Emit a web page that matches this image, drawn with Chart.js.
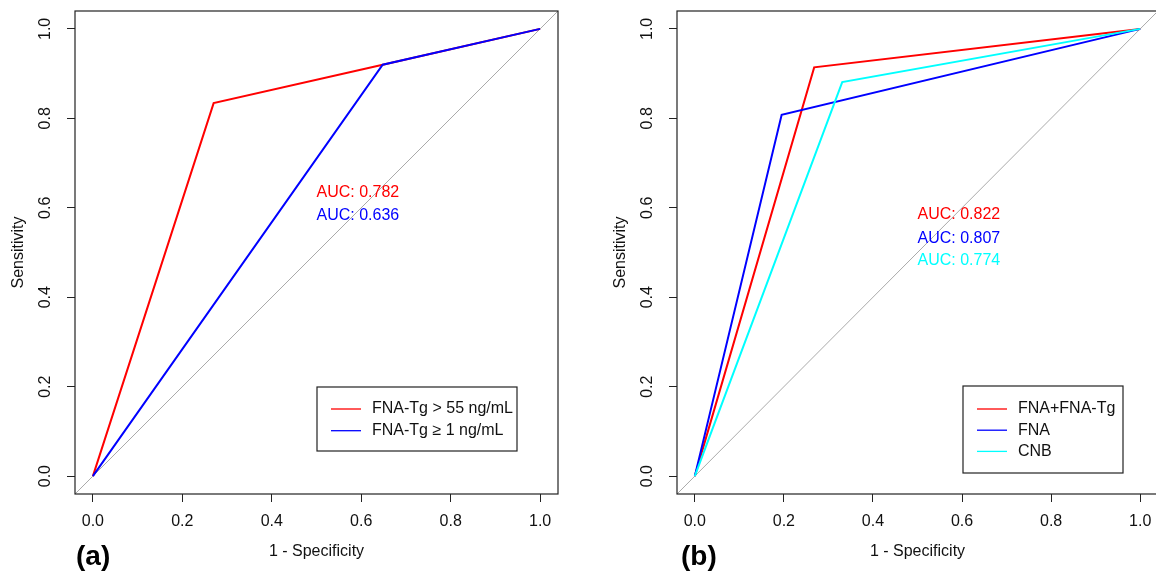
<!DOCTYPE html>
<html lang="en">

<head>
    <meta charset="UTF-8">
    <title>ROC curves</title>
    <script src="https://cdn.jsdelivr.net/npm/chart.js"></script>
    <style>
        body { margin: 0; background: #fff; overflow: hidden; width: 1156px; height: 574px; position: relative; }
        canvas { position: absolute; top: 0; }
        #rocA { left: 0; }
        #rocB { left: 602px; }
    </style>
</head>

<body>
    <canvas id="rocA" width="578" height="574"></canvas>
    <canvas id="rocB" width="578" height="574"></canvas>

    <script>
        // axis ticks (both panels)
        const xTicks = [0, 0.2, 0.4, 0.6, 0.8, 1.0];
        const yTicks = [0, 0.2, 0.4, 0.6, 0.8, 1.0];
        const axisRange = [-0.04, 1.04];

        // panel (a)
        const aLabels = ['FNA-Tg > 55 ng/mL', 'FNA-Tg \u2265 1 ng/mL'];
        const aRedX = [0, 0.27, 0.648, 1];
        const aRedY = [0, 0.834, 0.92, 1];
        const aBlueX = [0, 0.648, 1];
        const aBlueY = [0, 0.92, 1];
        const aAuc = [0.782, 0.636];

        // panel (b)
        const bLabels = ['FNA+FNA-Tg', 'FNA', 'CNB'];
        const bRedX = [0, 0.268, 1];
        const bRedY = [0, 0.914, 1];
        const bBlueX = [0, 0.195, 1];
        const bBlueY = [0, 0.808, 1];
        const bCyanX = [0, 0.331, 1];
        const bCyanY = [0, 0.881, 1];
        const bAuc = [0.822, 0.807, 0.774];

        const FONT = '"Liberation Sans", Arial, sans-serif';

        function pts(xs, ys) {
            return xs.map((x, i) => ({ x: x, y: ys[i] }));
        }

        function curve(label, xs, ys, color, order) {
            return {
                label: label, data: pts(xs, ys), borderColor: color, backgroundColor: color,
                borderWidth: 2, pointRadius: 0, tension: 0, order: order
            };
        }

        // grey identity line, spans the whole box
        function diagonal() {
            return {
                label: '', data: pts(axisRange, axisRange), borderColor: '#aaaaaa',
                borderWidth: 1, pointRadius: 0, tension: 0, order: 10
            };
        }

        // R-style extras: full box, rotated y labels, AUC text, legend, panel tag
        const rStyle = {
            id: 'rStyle',
            afterDraw(chart, args, o) {
                const { ctx, chartArea: a, scales } = chart;
                ctx.save();
                ctx.strokeStyle = '#222';
                ctx.lineWidth = 1.2;
                ctx.strokeRect(a.left, a.top, a.right - a.left, a.bottom - a.top);

                ctx.fillStyle = '#111';
                ctx.font = '16px ' + FONT;
                ctx.textAlign = 'center';
                ctx.textBaseline = 'middle';
                scales.y.ticks.forEach(t => {
                    ctx.save();
                    ctx.translate(46, scales.y.getPixelForValue(t.value));
                    ctx.rotate(-Math.PI / 2);
                    ctx.fillText(t.value.toFixed(1), 0, 0);
                    ctx.restore();
                });

                // AUC text
                const sets = chart.data.datasets.filter(d => d.label);
                ctx.textAlign = 'left';
                o.auc.forEach((v, i) => {
                    ctx.fillStyle = sets[i].borderColor;
                    ctx.fillText('AUC: ' + v.toFixed(3), scales.x.getPixelForValue(0.5),
                        scales.y.getPixelForValue(o.aucY[i]));
                });

                // legend box
                const L = o.legend;
                ctx.strokeStyle = '#222';
                ctx.lineWidth = 1.2;
                ctx.strokeRect(L.left, L.top, L.width, L.height);
                sets.forEach((d, i) => {
                    const y = L.top + L.first + i * L.step;
                    ctx.strokeStyle = d.borderColor;
                    ctx.lineWidth = 1.3;
                    ctx.beginPath();
                    ctx.moveTo(L.left + 14, y);
                    ctx.lineTo(L.left + 44, y);
                    ctx.stroke();
                    ctx.fillStyle = '#111';
                    ctx.fillText(d.label, L.left + 55, y);
                });

                ctx.font = 'bold 28px ' + FONT;
                ctx.fillStyle = '#000';
                ctx.fillText(o.tag, o.tagX, 557);
                ctx.restore();
            }
        };

        function makeChart(id, datasets, extra) {
            new Chart(document.getElementById(id), {
                type: 'line',
                data: { datasets: datasets },
                plugins: [rStyle],
                options: {
                    responsive: false,
                    animation: false,
                    layout: { padding: { left: 0, top: 11, right: extra.padRight, bottom: 0 } },
                    plugins: { legend: { display: false }, tooltip: { enabled: false }, rStyle: extra },
                    scales: {
                        x: {
                            type: 'linear', min: axisRange[0], max: axisRange[1],
                            afterBuildTicks: s => { s.ticks = xTicks.map(v => ({ value: v })); },
                            afterFit: s => { s.height = 80; },
                            grid: { drawOnChartArea: false, drawTicks: true, tickLength: 8, tickColor: '#222' },
                            border: { display: false },
                            ticks: {
                                padding: 10, color: '#111', font: { size: 16, family: FONT },
                                maxRotation: 0, callback: v => Number(v).toFixed(1)
                            },
                            title: {
                                display: true, text: '1 - Specificity', color: '#111',
                                font: { size: 16, family: FONT }, padding: { top: 0, bottom: 13 }
                            }
                        },
                        y: {
                            type: 'linear', min: axisRange[0], max: axisRange[1],
                            afterBuildTicks: s => { s.ticks = yTicks.map(v => ({ value: v })); },
                            afterFit: s => { s.width = 75; },
                            grid: { drawOnChartArea: false, drawTicks: true, tickLength: 8, tickColor: '#222' },
                            border: { display: false },
                            ticks: { display: false },
                            title: {
                                display: true, text: 'Sensitivity', color: '#111',
                                font: { size: 16, family: FONT }, padding: { top: 9, bottom: 0 }
                            }
                        }
                    }
                }
            });
        }

        makeChart('rocA', [
            curve(aLabels[0], aRedX, aRedY, '#ff0000', 2),
            curve(aLabels[1], aBlueX, aBlueY, '#0000ff', 1),
            diagonal()
        ], {
            padRight: 20, tag: '(a)', tagX: 76,
            auc: aAuc, aucY: [0.633, 0.583],
            legend: { left: 317, top: 387, width: 200, height: 64, first: 22, step: 21.7 }
        });

        makeChart('rocB', [
            curve(bLabels[0], bRedX, bRedY, '#ff0000', 3),
            curve(bLabels[1], bBlueX, bBlueY, '#0000ff', 2),
            curve(bLabels[2], bCyanX, bCyanY, '#00ffff', 1),
            diagonal()
        ], {
            padRight: 22, tag: '(b)', tagX: 79,
            auc: bAuc, aucY: [0.584, 0.532, 0.483],
            legend: { left: 361, top: 386, width: 160, height: 87, first: 23, step: 21.2 }
        });
    </script>
</body>

</html>
